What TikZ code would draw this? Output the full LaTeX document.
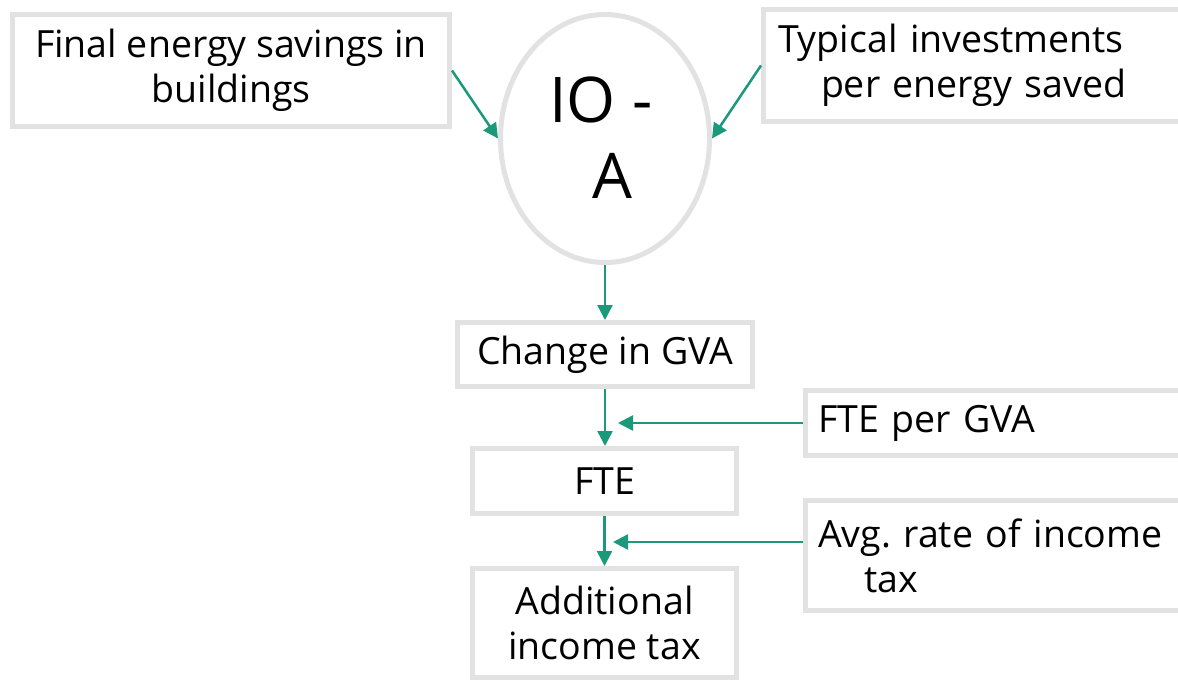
\documentclass[tikz,border=0pt]{standalone}
\usepackage{fontspec}
\setmainfont{Open Sans}
\frenchspacing
\usetikzlibrary{arrows.meta,shapes.geometric}
\definecolor{framegray}{HTML}{E1E2E1}
\definecolor{flowteal}{HTML}{1B9A7B}
\begin{document}
\begin{tikzpicture}[x=1pt,y=-1pt,
  box/.style={draw=framegray,line width=5pt,fill=white,rectangle,anchor=north west,
    font=\fontsize{37.5}{45}\selectfont},
  leftbox/.style={box,align=left},
  midbox/.style={box,align=center},
  bigtext/.style={font=\fontsize{63}{76}\selectfont,align=left},
  flow/.style={draw=flowteal,line width=2.5pt,-{Triangle[length=15pt,width=15pt]}}]
\useasboundingbox (0,0) rectangle (1178,680);
\clip (0,0) rectangle (1178,680);
\fill[white] (0,0) rectangle (1178,680);

% inputs at the top
\node[midbox,minimum width=437pt,minimum height=112pt] (fes) at (10,12)
  {Final energy savings in\\buildings};
\node[leftbox,minimum width=439pt,minimum height=112pt,inner xsep=14.5pt,text width=410pt]
  (inv) at (761,7) {Typical investments\\\hspace*{43pt}per energy saved};

% input-output model
\node[ellipse,draw=framegray,line width=5pt,fill=white,minimum width=209pt,
  minimum height=248pt] (io) at (605,138.5) {};
\node[bigtext] (iolbl) at (601,138) {IO -\\\hspace*{43pt}A};

% chain of results
\node[midbox,minimum width=295pt,minimum height=64pt] (gva) at (455,320) {Change in GVA};
\node[midbox,minimum width=264pt,minimum height=65pt] (fte) at (470,446) {FTE};
\node[midbox,minimum width=264pt,minimum height=109pt] (add) at (470,566)
  {Additional\\income tax};

% side factors
\node[leftbox,minimum width=397pt,minimum height=65pt,inner xsep=12.5pt,text width=372pt]
  (fpg) at (803,388) {FTE per GVA};
\node[leftbox,minimum width=397pt,minimum height=110pt,inner xsep=12.5pt,text width=372pt]
  (avg) at (803,498) {Avg. rate of income\\\hspace*{46pt}tax};

% connectors
\coordinate (jobjoin) at (618,423);
\coordinate (taxjoin) at (613,542);
\draw[flow] (fes.east) -- (io.west);
\draw[flow] (inv.west) -- (io.east);
\draw[flow] (io.south) -- (io.south |- gva.north);
\draw[flow] (gva.south) -- (gva.south |- fte.north);
\draw[flow] (fte.south) -- (fte.south |- add.north);
\draw[flow] (fpg.west) -- (jobjoin);
\draw[flow] (avg.west |- taxjoin) -- (taxjoin);
\end{tikzpicture}
\end{document}
